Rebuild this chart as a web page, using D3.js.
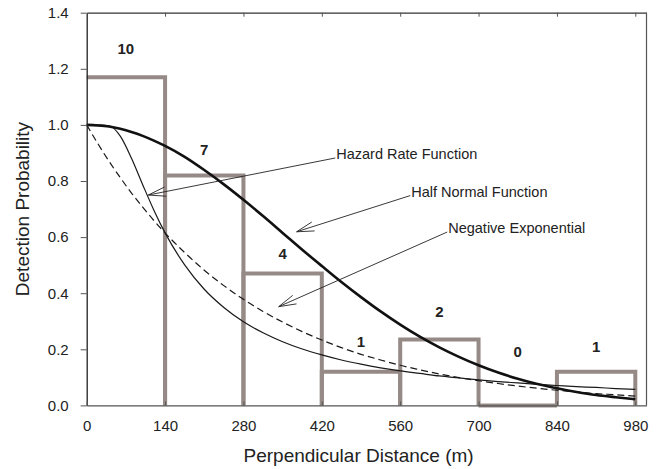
<!DOCTYPE html>
<html>
<head>
<meta charset="utf-8">
<script src="https://cdn.jsdelivr.net/npm/d3@7"></script>
<style>
  body { margin: 0; background: #fff; }
  svg { font-family: "Liberation Sans", Arial, sans-serif; }
</style>
</head>
<body>
<script>
// histogram bins (m) and their plotted heights / counts
var binEdges = [0, 140, 280, 420, 560, 700, 840, 980];
var binHeights = [1.17, 0.82, 0.47, 0.12, 0.235, 0, 0.12];
var binCounts = [10, 7, 4, 1, 2, 0, 1];
var countLabelY = [1.273, 0.911, 0.542, 0.227, 0.334, 0.191, 0.209];

// fitted detection functions
var distance = [0, 20, 40, 60, 80, 100, 120, 140, 175, 210, 245, 280, 315, 350, 385, 420, 455, 490,
                525, 560, 595, 630, 665, 700, 735, 770, 805, 840, 875, 910, 945, 980];
var hazardRate = [1.000, 1.000, 0.997, 0.960, 0.881, 0.787, 0.696, 0.615, 0.501, 0.414, 0.349, 0.298,
                  0.259, 0.227, 0.201, 0.180, 0.162, 0.147, 0.134, 0.123, 0.114, 0.105, 0.098, 0.091,
                  0.085, 0.080, 0.075, 0.071, 0.067, 0.064, 0.060, 0.057];
var halfNormal = [1.000, 0.998, 0.994, 0.986, 0.975, 0.961, 0.944, 0.925, 0.886, 0.839, 0.788, 0.733,
                  0.675, 0.615, 0.555, 0.497, 0.440, 0.386, 0.335, 0.288, 0.245, 0.207, 0.173, 0.143,
                  0.117, 0.095, 0.076, 0.061, 0.048, 0.037, 0.029, 0.022];
var negExp = [1.000, 0.933, 0.870, 0.812, 0.757, 0.707, 0.659, 0.615, 0.545, 0.482, 0.427, 0.378,
              0.335, 0.297, 0.263, 0.233, 0.206, 0.182, 0.162, 0.143, 0.127, 0.112, 0.099, 0.088,
              0.078, 0.069, 0.061, 0.054, 0.048, 0.042, 0.038, 0.033];

var xTicks = [0, 140, 280, 420, 560, 700, 840, 980];
var yTicks = [0, 0.2, 0.4, 0.6, 0.8, 1.0, 1.2, 1.4];

// annotation labels with arrow tips (data units)
var annoText = ["Hazard Rate Function", "Half Normal Function", "Negative Exponential"];
var annoFrom = [[444, 0.882], [578, 0.748], [644, 0.618]];
var annoTip = [[110, 0.750], [375, 0.619], [343, 0.352]];

// set the dimensions and margins of the graph
var margin = {top: 12.7, right: 11.5, bottom: 63.6, left: 86.7},
    width = 658 - margin.left - margin.right,
    height = 469 - margin.top - margin.bottom;

var x = d3.scaleLinear().domain([0, 1000]).range([0, width]);
var y = d3.scaleLinear().domain([0, 1.4]).range([height, 0]);

var svg = d3.select("body").append("svg")
    .attr("width", 658)
    .attr("height", 469)
  .append("g")
    .attr("transform", "translate(" + margin.left + "," + margin.top + ")");

// histogram outline (open at the bottom, first bin has no left edge)
var bins = binHeights.map(function(h, i) {
  return {x0: binEdges[i], x1: binEdges[i + 1], h: h, n: binCounts[i], ly: countLabelY[i]};
});

svg.selectAll(".bin")
    .data(bins)
  .enter().append("path")
    .attr("class", "bin")
    .attr("fill", "none")
    .attr("stroke", "#968a86")
    .attr("stroke-width", 4)
    .attr("d", function(d, i) {
      var start = i === 0 ? "M" + x(d.x0) + "," + y(d.h)
                          : "M" + x(d.x0) + "," + y(0) + "V" + y(d.h);
      return start + "H" + x(d.x1) + "V" + y(0);
    });

svg.selectAll(".count")
    .data(bins)
  .enter().append("text")
    .attr("class", "count")
    .attr("x", function(d) { return x((d.x0 + d.x1) / 2); })
    .attr("y", function(d) { return y(d.ly); })
    .attr("dy", "0.35em")
    .attr("text-anchor", "middle")
    .style("font-size", "15px")
    .style("font-weight", "bold")
    .style("fill", "#222")
    .text(function(d) { return d.n; });

// curves
function curveLine(vals) {
  return d3.line()
    .x(function(d, i) { return x(distance[i]); })
    .y(function(d) { return y(d); })
    .curve(d3.curveMonotoneX)(vals);
}

svg.append("path")
    .attr("d", curveLine(negExp))
    .attr("fill", "none")
    .attr("stroke", "#1a1a1a")
    .attr("stroke-width", 1.2)
    .attr("stroke-dasharray", "7,4");

svg.append("path")
    .attr("d", curveLine(hazardRate))
    .attr("fill", "none")
    .attr("stroke", "#1a1a1a")
    .attr("stroke-width", 1.2);

svg.append("path")
    .attr("d", curveLine(halfNormal))
    .attr("fill", "none")
    .attr("stroke", "#111")
    .attr("stroke-width", 2.6);

// annotations
annoText.forEach(function(t, i) {
  var fx = x(annoFrom[i][0]), fy = y(annoFrom[i][1]);
  var tx = x(annoTip[i][0]), ty = y(annoTip[i][1]);
  var ang = Math.atan2(fy - ty, fx - tx);
  var len = 18, spread = 15 * Math.PI / 180;
  svg.append("path")
      .attr("fill", "none")
      .attr("stroke", "#222")
      .attr("stroke-width", 0.9)
      .attr("d", "M" + fx + "," + fy + "L" + tx + "," + ty +
                 "M" + (tx + len * Math.cos(ang - spread)) + "," + (ty + len * Math.sin(ang - spread)) +
                 "L" + tx + "," + ty +
                 "L" + (tx + len * Math.cos(ang + spread)) + "," + (ty + len * Math.sin(ang + spread)));
  svg.append("text")
      .attr("x", fx + 1)
      .attr("y", fy + 1)
      .style("font-size", "14.5px")
      .style("fill", "#222")
      .text(t);
});

// axes
var yAxis = svg.append("g")
    .call(d3.axisLeft(y).tickValues(yTicks).tickFormat(d3.format(".1f"))
      .tickSizeInner(6).tickSizeOuter(0).tickPadding(12));
yAxis.select(".domain").attr("stroke", "#222").attr("stroke-width", 1.3);
yAxis.selectAll(".tick line").attr("stroke", "#555");
yAxis.selectAll("text").style("font-size", "15px").style("fill", "#222")
    .style("font-family", "'Liberation Sans', Arial, sans-serif");

var xAxis = svg.append("g")
    .attr("transform", "translate(0," + height + ")")
    .call(d3.axisBottom(x).tickValues(xTicks)
      .tickSizeInner(-4).tickSizeOuter(0).tickPadding(15));
xAxis.select(".domain").attr("stroke", "#555").attr("stroke-width", 1.2);
xAxis.selectAll(".tick line").attr("stroke", "#555");
xAxis.selectAll("text").style("font-size", "15px").style("fill", "#222")
    .style("font-family", "'Liberation Sans', Arial, sans-serif");

// top and right frame
var topAxis = svg.append("g")
    .call(d3.axisTop(x).tickValues(xTicks.slice(1)).tickFormat("")
      .tickSizeInner(-4).tickSizeOuter(0));
topAxis.select(".domain").attr("stroke", "#333").attr("stroke-width", 1.2);
topAxis.selectAll(".tick line").attr("stroke", "#555");

svg.append("line")
    .attr("x1", width).attr("x2", width)
    .attr("y1", 0).attr("y2", height)
    .attr("stroke", "#555")
    .attr("stroke-width", 1.2);

// axis titles
svg.append("text")
    .attr("x", width / 2 - 8)
    .attr("y", height + 57)
    .attr("text-anchor", "middle")
    .style("font-size", "19px")
    .style("fill", "#222")
    .text("Perpendicular Distance (m)");

svg.append("text")
    .attr("transform", "rotate(-90)")
    .attr("x", -height / 2)
    .attr("y", -margin.left + 29)
    .attr("text-anchor", "middle")
    .style("font-size", "19px")
    .style("fill", "#222")
    .text("Detection Probability");
</script>
</body>
</html>
